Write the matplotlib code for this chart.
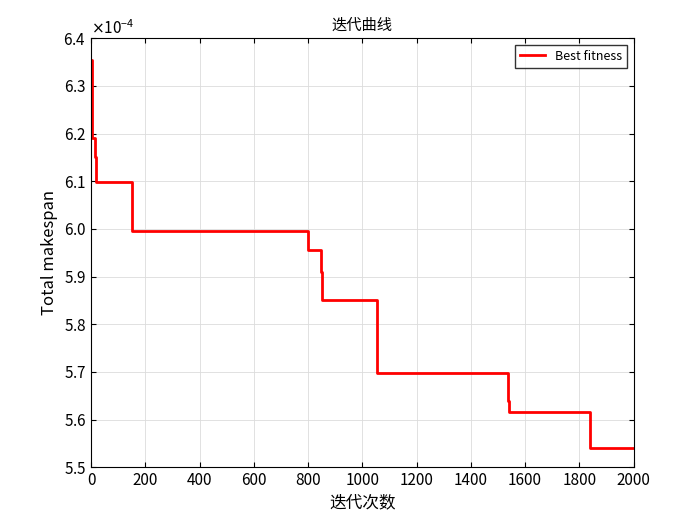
import matplotlib
matplotlib.use('Agg')
import matplotlib.pyplot as plt
import matplotlib.ticker as mticker

plt.rcParams['font.family'] = ['Noto Sans CJK SC', 'DejaVu Sans']

# iteration where each best-fitness level starts, and the level (x1e-4)
iters = [1, 5, 14, 17, 150, 800, 848, 852, 1055, 1538, 1542, 1840, 2000]
best = [6.355, 6.19, 6.15, 6.098, 5.995, 5.955, 5.91, 5.85, 5.697, 5.64, 5.615, 5.54, 5.54]
best = [v * 1e-4 for v in best]

fig, ax = plt.subplots(figsize=(7, 5.25), dpi=100)
fig.subplots_adjust(left=0.13, right=0.905, top=0.927, bottom=0.11)
ax.plot(iters, best, color='red', lw=2, drawstyle='steps-post', label='Best fitness')
ax.set_xlim(0, 2000)
ax.set_ylim(5.5e-4, 6.4e-4)
ax.set_xticks(range(0, 2001, 200))
ax.set_yticks([x * 1e-5 + 5.5e-4 for x in range(10)])
fmt = mticker.ScalarFormatter(useMathText=True)
fmt.set_powerlimits((-4, -4))
ax.yaxis.set_major_formatter(fmt)
ax.grid(True, color='#dcdcdc', lw=0.6)
ax.tick_params(direction='in', top=True, right=True, labelsize=11)
ax.yaxis.get_offset_text().set_fontsize(11)
ax.set_title('迭代曲线', fontsize=11)
ax.set_xlabel('迭代次数', fontsize=12)
ax.set_ylabel('Total makespan', fontsize=12)
ax.legend(loc='upper right', fancybox=False, edgecolor='black', fontsize=9)
fig.savefig('out.png')
